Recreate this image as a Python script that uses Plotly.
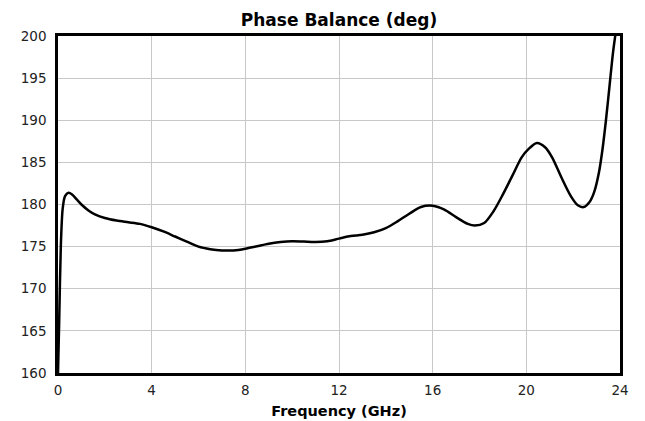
import plotly.graph_objects as go

freq = [0.0, 0.05, 0.12, 0.2, 0.3, 0.45, 0.6, 0.8, 1.0, 1.3, 1.6, 2.0, 2.5, 3.0, 3.5, 4.0, 4.5, 5.0, 5.5, 6.0, 6.5, 7.0, 7.5, 8.0, 8.5, 9.0, 9.5, 10.0, 10.5, 11.0, 11.5, 12.0, 12.5, 13.0, 13.5, 14.0, 14.5, 15.0, 15.5, 16.0, 16.5, 17.0, 17.5, 17.8, 18.2, 18.6, 19.0, 19.4, 19.8, 20.1, 20.45, 20.8, 21.1, 21.5, 21.9, 22.2, 22.45, 22.7, 22.9, 23.1, 23.25, 23.4, 23.55, 23.7, 23.82]
phase = [160.0, 166.0, 175.0, 179.5, 181.0, 181.4, 181.2, 180.6, 180.0, 179.3, 178.8, 178.4, 178.1, 177.9, 177.7, 177.3, 176.8, 176.2, 175.6, 175.0, 174.7, 174.55, 174.55, 174.75, 175.05, 175.35, 175.55, 175.65, 175.6, 175.55, 175.65, 175.95, 176.25, 176.4, 176.7, 177.2, 178.0, 178.9, 179.7, 179.85, 179.4, 178.5, 177.7, 177.5, 177.8, 179.2, 181.2, 183.4, 185.6, 186.6, 187.3, 186.8, 185.6, 183.2, 181.0, 179.9, 179.7, 180.3, 181.5, 183.8, 186.5, 190.0, 194.0, 198.0, 200.5]

x_ticks = [0, 4, 8, 12, 16, 20, 24]
y_ticks = [160, 165, 170, 175, 180, 185, 190, 195, 200]

fig = go.Figure()
fig.add_trace(go.Scatter(
    x=freq, y=phase, mode="lines",
    line=dict(color="black", width=2.5, shape="spline", smoothing=0.8),
    showlegend=False, cliponaxis=True,
))

font_family = "DejaVu Sans"
fig.update_layout(
    width=645, height=421,
    margin=dict(l=58, r=25, t=36, b=48),
    paper_bgcolor="white", plot_bgcolor="white",
    font=dict(family=font_family, size=13.5, color="#222"),
    title=dict(text="<b>Phase Balance (deg)</b>", x=0.5, xanchor="center",
               xref="paper", y=1 - 20 / 421, yanchor="middle", yref="container",
               font=dict(size=17, family=font_family, color="black")),
    xaxis=dict(range=[0, 24], tickvals=x_ticks, showgrid=True, gridcolor="#c8c8c8", gridwidth=1,
               showline=True, linecolor="black", linewidth=2.5, mirror=True,
               ticks="", zeroline=False, automargin=False, ticklabelstandoff=3,
               title=dict(text="<b>Frequency (GHz)</b>", font=dict(size=14.5, color="black"), standoff=9)),
    yaxis=dict(range=[160, 200], tickvals=y_ticks, showgrid=True, gridcolor="#c8c8c8", gridwidth=1,
               showline=True, linecolor="black", linewidth=2.5, mirror=True,
               ticks="", zeroline=False, automargin=False, ticklabelstandoff=6),
)
fig.write_html("out.html")
